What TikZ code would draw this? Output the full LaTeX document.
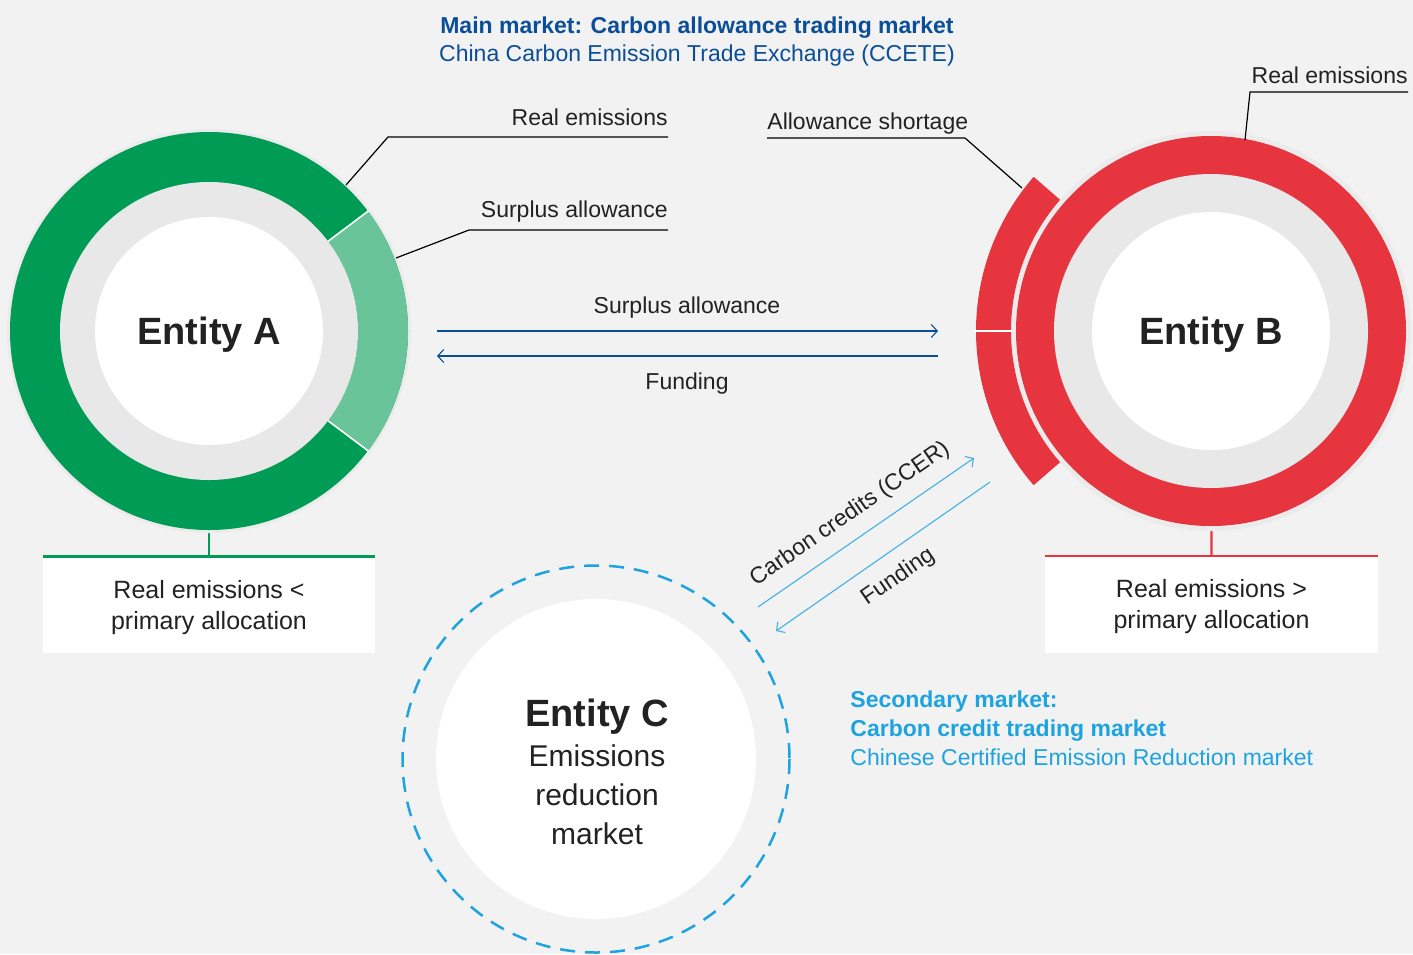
\documentclass[tikz,border=0pt]{standalone}
\usepackage{fontspec}
\setmainfont{Liberation Sans}
\usetikzlibrary{arrows.meta}
\definecolor{bgc}{HTML}{F2F2F2}
\definecolor{halo}{HTML}{EBEBEB}
\definecolor{ringg}{HTML}{E8E8E8}
\definecolor{grn}{HTML}{009B55}
\definecolor{lgrn}{HTML}{69C49A}
\definecolor{rd}{HTML}{E73540}
\definecolor{navy}{HTML}{0B4E98}
\definecolor{sky}{HTML}{1DA4E0}
\definecolor{txt}{HTML}{222222}

\begin{document}
\begin{tikzpicture}[x=0.5pt,y=-0.5pt,
 lbl/.style={inner sep=0, text=txt, font=\fontsize{11.5}{14}\selectfont},
 leader/.style={draw=black, line width=0.6pt},
 flow/.style={draw=navy, line width=0.55pt, -{Straight Barb[length=3pt,width=6.5pt]}},
 cflow/.style={draw=sky!85!white, line width=0.55pt, -{Straight Barb[length=3pt,width=6.5pt]}},
 ent/.style={circle, fill=white, inner sep=0, text=txt, text depth=0pt, font=\fontsize{19}{22}\bfseries\selectfont},
 box/.style={fill=white, inner sep=0, minimum height=48pt},
 boxtxt/.style={inner sep=0, align=center, text=txt, font=\fontsize{12.5}{15.5}\selectfont},
 stem/.style={line width=1.2pt}]

 \useasboundingbox (0,0) rectangle (1413,954);
 \fill[bgc] (0,0) rectangle (1413,954);

 \coordinate (cA) at (209,331);
 \coordinate (cB) at (1211,331);
 \coordinate (cC) at (596,759);

 \node[box, minimum width=166pt] (boxA) at (209,605) {};
 \node[boxtxt] (boxAtxt) at (209,608) {Real emissions <\\primary allocation};
 \node[box, minimum width=166.5pt] (boxB) at (1211.5,604.5) {};
 \node[boxtxt] (boxBtxt) at (1211.5,607) {Real emissions >\\primary allocation};
 \draw[stem, grn] (boxA.north) -- (cA);
 \draw[stem, grn] (boxA.north west) -- (boxA.north east);
 \draw[stem, rd] (boxB.north) -- (cB);
 \draw[stem, rd] (boxB.north west) -- (boxB.north east);

 \fill[halo] (cA) circle[radius=202];
 \fill[grn] (cA) circle[radius=199];
 \fill[lgrn, shift={(cA)}] (-37:199) arc[start angle=-37, end angle=37, radius=199]
   -- (37:149) arc[start angle=37, end angle=-37, radius=149] -- cycle;
 \draw[white, line width=0.8pt, shift={(cA)}] (37:148) -- (37:200) (-37:148) -- (-37:200);
 \fill[ringg] (cA) circle[radius=149];
 \node[ent, minimum size=114pt] (A) at (cA) {Entity A};

 \fill[halo] (cB) circle[radius=200];
 \fill[rd] (cB) circle[radius=195];
 \fill[ringg] (cB) circle[radius=157];
 \fill[rd, shift={(cB)}] (139:235) arc[start angle=139, end angle=221, radius=235]
   -- (221:200) arc[start angle=221, end angle=139, radius=200] -- cycle;
 \draw[white, line width=0.8pt, shift={(cB)}] (180:199) -- (180:236);
 \node[ent, minimum size=119pt] (B) at (cB) {Entity B};

 \draw[sky, line width=1.25pt, dash pattern=on 7.5pt off 5pt] (cC) circle[radius=193.5];
 \node[circle, fill=white, minimum size=160pt, inner sep=0] (C) at (cC) {};
 \node[inner sep=0, align=center, text=txt, font=\fontsize{15}{19.5}\selectfont] (Ctxt) at (597,772)
   {{\fontsize{19}{22}\bfseries\selectfont Entity C}\\[0.5pt]Emissions\\reduction\\market};

 \node[inner sep=0, text=navy, font=\fontsize{11.5}{14}\bfseries\selectfont] (t1) at (697,28) {Main market: Carbon allowance trading market};
 \node[inner sep=0, text=navy, font=\fontsize{11.5}{14}\selectfont] (t2) at (697,56) {China Carbon Emission Trade Exchange (CCETE)};

 \node[lbl, anchor=base east] (reA) at (668,125) {Real emissions};
 \coordinate (reA-t) at (346,185);
 \coordinate (reA-k) at (388,137);
 \draw[leader] (reA-t) -- (reA-k) -- (reA-k -| reA.east);

 \node[lbl, anchor=base east] (saA) at (668,217) {Surplus allowance};
 \coordinate (saA-t) at (396,258);
 \coordinate (saA-k) at (469,230);
 \draw[leader] (saA-t) -- (saA-k) -- (saA-k -| saA.east);

 \node[lbl, anchor=base west] (shB) at (767,129) {Allowance shortage};
 \coordinate (shB-t) at (1022,188);
 \coordinate (shB-k) at (965,138);
 \draw[leader] (shB-t) -- (shB-k) -- (shB-k -| shB.west);

 \node[lbl, anchor=base east] (reB) at (1408,83) {Real emissions};
 \coordinate (reB-t) at (1245,140);
 \coordinate (reB-k) at (1250,92);
 \draw[leader] (reB-t) -- (reB-k) -- (reB-k -| reB.east);

 \coordinate (ab1) at (437,331);
 \coordinate (ab2) at (938,331);
 \coordinate (ba1) at (938,356);
 \coordinate (ba2) at (437,356);
 \draw[flow] (ab1) -- (ab2);
 \draw[flow] (ba1) -- (ba2);
 \node[lbl] (sa) at (687,308) {Surplus allowance};
 \node[lbl] (fu) at (687,384) {Funding};

 \coordinate (cb1) at (758,607);
 \coordinate (cb2) at (974,458);
 \coordinate (bc1) at (990,482);
 \coordinate (bc2) at (776,631);
 \draw[cflow] (cb1) -- (cb2);
 \draw[cflow] (bc1) -- (bc2);
 \node[lbl, rotate=34.6] (ccer) at (850,514) {Carbon credits (CCER)};
 \node[lbl, rotate=34.6] (fu2) at (898,577) {Funding};

 \node[inner sep=0, anchor=west, align=left, text=sky, font=\fontsize{11.5}{14.5}\selectfont] (sec) at (850,728)
   {\textbf{Secondary market:}\\\textbf{Carbon credit trading market}\\Chinese Certified Emission Reduction market};
\end{tikzpicture}
\end{document}
